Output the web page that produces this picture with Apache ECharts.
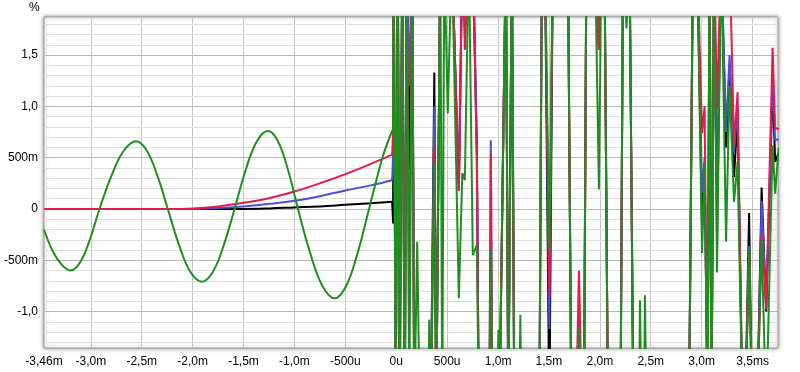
<!DOCTYPE html>
<html><head><meta charset="utf-8">
<script src="https://cdn.jsdelivr.net/npm/echarts@6/dist/echarts.min.js"></script>
<style>html,body{margin:0;padding:0;background:#fff}#c{width:800px;height:372px}</style>
</head><body><div id="c"></div>
<script>
// ---- tick labels ----
const xTickValues = [-3.46,-3.0,-2.5,-2.0,-1.5,-1.0,-0.5,0,0.5,1.0,1.5,2.0,2.5,3.0,3.5];
const xTickLabels = ['-3,46m','-3,0m','-2,5m','-2,0m','-1,5m','-1,0m','-500u','0u','500u','1,0m','1,5m','2,0m','2,5m','3,0m','3,5ms'];
const yTickValues = [-1.0,-0.5,0,0.5,1.0,1.5];
const yTickLabels = ['-1,0','-500m','0','500m','1,0','1,5'];
const xGridValues = [-3.0,-2.5,-2.0,-1.5,-1.0,-0.5,0,0.5,1.0,1.5,2.0,2.5,3.0,3.5];

// ---- before t=0 (ms) ----
const tPreRBK  = [-3.46,-2.25,-2.0,-1.75,-1.5,-1.25,-1.0,-0.75,-0.5,-0.25,-0.04];
const redPre   = [0,0,0.005,0.025,0.06,0.105,0.17,0.25,0.34,0.44,0.53];
const bluePre  = [0,0,0,0.01,0.025,0.05,0.08,0.125,0.18,0.23,0.28];
const blackPre = [0,0,0,0,0,0.005,0.015,0.025,0.04,0.055,0.07];

const tPreGreen = [-3.46,-3.37,-3.28,-3.20,-3.105,-3.01,-2.915,-2.795,-2.675,-2.555,-2.451,-2.348,-2.244,-2.132,-2.021,-1.909,-1.802,-1.695,-1.588,-1.479,-1.369,-1.26,-1.162,-1.063,-0.965,-0.845,-0.725,-0.605,-0.492,-0.38,-0.267,-0.19,-0.12,-0.04];
const greenPre  = [-0.20,-0.42,-0.55,-0.60,-0.52,-0.30,0,0.33,0.57,0.66,0.57,0.33,0,-0.355,-0.615,-0.71,-0.615,-0.355,0,0.38,0.66,0.76,0.66,0.38,0,-0.43,-0.75,-0.87,-0.75,-0.43,0,0.30,0.55,0.76];

// ---- after t=0 (ms) ----
const tPost = [-0.04,-0.031,-0.025,-0.005,0.015,0.034,0.059,0.084,0.103,0.128,0.157,0.177,0.206,0.231,0.315,0.324,0.339,0.374,0.393,0.433,0.452,0.472,0.506,0.546,0.615,0.649,0.674,0.713,0.752,0.792,0.811,0.914,0.929,0.944,0.993,1.003,1.013,1.077,1.101,1.136,1.160,1.209,1.219,1.229,1.406,1.431,1.460,1.504,1.539,1.686,1.721,1.765,1.795,1.824,1.844,1.868,1.952,1.991,2.016,2.045,2.080,2.203,2.228,2.262,2.291,2.330,2.384,2.394,2.409,2.434,2.443,2.458,2.876,2.915,2.955,3.004,3.029,3.058,3.078,3.097,3.122,3.151,3.191,3.210,3.240,3.274,3.318,3.353,3.402,3.427,3.466,3.496,3.545,3.589,3.634,3.697,3.722,3.757];
const blackPost = [0.07,-0.14,2.5,-2,2.5,-2,2.5,-2,2.5,0.38,2.5,-2,-2,-2,-2,-2,-2,1.33,-2,2.5,2.5,2.5,2.5,2.5,0.18,2.5,2.5,2.5,2.5,0.6,-2,-2,-0.4,-2,-2,-2,-2,2.5,-2,2.5,-2,-2,-2,-2,-2,2.5,2.5,-2,2.5,2.5,-2,-2,-1.2,-2,-2,2.5,2.5,1.55,2.5,2.5,-2,-2,2.5,2.5,2.5,-2,-2,-2,-2,-2,-2,-2,-2,2.5,2.5,-0.2,0.45,-2,2.5,-2,2.5,-0.27,2.5,2.5,0.6,1.4,0.31,0.9,-2,-2,-0.04,-2,-2,0.21,-1.0,1.2,0.46,0.55];
const bluePost  = [0.28,0.53,2.5,-2,2.5,-2,2.5,-2,2.5,1.2,2.5,-2,-2,-2,-2,-2,-2,1.0,-2,2.5,2.5,2.5,2.5,2.5,0.18,2.5,2.5,2.5,2.5,0.52,-2,-2,0.67,-2,-2,-2,-2,2.5,-2,2.5,-2,-2,-2,-2,-2,2.5,2.5,-1.17,2.5,2.5,-2,-2,-1.0,-2,-2,2.5,2.5,1.55,2.5,2.5,-2,-2,2.5,2.5,2.5,-2,-2,-2,-2,-2,-2,-2,-2,2.5,2.5,0.16,0.5,-2,2.5,-2,2.5,0.25,2.5,2.5,0.75,1.5,0.55,1.0,-2,-2,-0.36,-2,-2,0.08,-0.98,1.3,0.67,0.68];
const redPost   = [0.53,0.75,2.5,-2,2.5,-2,2.5,-2,2.5,-1.0,2.5,-2,-2,-2,-2,-2,-2,0.6,-2,2.5,2.5,2.5,2.5,2.5,0.18,2.5,1.55,2.5,2.5,0.45,-2,-2,0.54,-2,-2,-2,-2,2.5,-2,2.5,-2,-2,-2,-2,-2,2.5,2.5,-0.85,2.5,2.5,-2,-2,-0.6,-2,-2,2.5,2.5,1.55,2.5,2.5,-2,-2,2.5,2.5,2.5,-2,-2,-2,-2,-2,-2,-2,-2,2.5,2.5,0.74,1.0,-2,2.5,-2,2.5,0.97,2.5,2.5,2.5,2.5,0.62,1.14,-2,-2,-0.42,-2,-2,-0.25,-0.96,1.57,0.79,0.78];
const greenPost = [0.76,0.78,2.5,-2,2.5,-2,2.5,-2,2.5,-2,2.5,-2,-0.32,-2,-2,-1.08,-2,0.45,-2,2.5,-2,2.5,0.93,2.5,-0.87,0.35,0.28,2.5,-0.45,-0.35,-2,-2,-0.4,-2,-2,-1.18,-2,2.5,-2,2.5,-2,-2,-1.03,-2,-2,2.5,2.5,-0.42,2.5,2.5,-2,-2,-1.15,-2,-2,2.5,2.5,0.19,2.5,2.5,-2,-2,2.5,1.76,2.5,-2,-2,-0.89,-2,-2,-0.84,-2,-2,2.5,2.5,-0.43,0.45,-2,2.5,-2,2.5,-0.62,2.5,2.5,-0.32,1.2,0.07,0.46,-2,-2,-0.4,-2,-2,-0.3,-2,0.62,0.15,0.6];

const colors = {black:'#000000', blue:'#4f4fd6', red:'#e8194a', green:'#1f8e1f'};
const zip = (xs, ys) => xs.map((x, i) => [x, ys[i]]);

function lineSeries(name, data, color, smooth, z) {
  return {name, type:'line', data, smooth, showSymbol:false, symbol:'none', z,
    lineStyle:{color, width:2, type:'solid'}, itemStyle:{color}, animation:false, clip:true};
}

const gridLines = [];
xGridValues.forEach(v => gridLines.push({xAxis:v, lineStyle:{color:'#c4c4c4', width:1, type:'solid'}}));
for (let k = -13; k <= 18; k++) {
  const major = (k % 5 === 0);
  gridLines.push({yAxis:k/10, lineStyle:{color: major ? '#b8b8b8' : '#dedede', width:1, type:'solid'}});
}

const chart = echarts.init(document.getElementById('c'), null, {renderer:'canvas'});
const fmt = (vals, labels) => v => {
  for (let i = 0; i < vals.length; i++) if (Math.abs(vals[i]-v) < 1e-6) return labels[i];
  return '';
};
chart.setOption({
  animation:false,
  backgroundColor:'#ffffff',
  grid:{left:44, right:22, top:17, bottom:24, show:true, backgroundColor:'#ffffff',
    borderColor:'#9c9c9c', borderWidth:1, shadowColor:'rgba(0,0,0,0.45)', shadowBlur:4},
  graphic:[{type:'text', left:29, top:2, style:{text:'%', font:'12px "Liberation Sans", Arial, sans-serif', fill:'#000'}}],
  xAxis:{type:'value', min:-3.46, max:3.75,
    axisLine:{show:false}, axisTick:{show:false}, splitLine:{show:false},
    axisLabel:{customValues:xTickValues, formatter:fmt(xTickValues, xTickLabels), color:'#000',
      fontSize:12, fontFamily:'"Liberation Sans", Arial, sans-serif', margin:8, showMinLabel:true, showMaxLabel:true}},
  yAxis:{type:'value', min:-1.355, max:1.871,
    axisLine:{show:false}, axisTick:{show:false}, splitLine:{show:false},
    axisLabel:{customValues:yTickValues, formatter:fmt(yTickValues, yTickLabels), color:'#000',
      fontSize:12, fontFamily:'"Liberation Sans", Arial, sans-serif', margin:6}},
  series:[
    {type:'line', data:[], z:1, silent:true, animation:false,
      markLine:{z:1, silent:true, symbol:['none','none'], label:{show:false}, animation:false, data:gridLines}},
    lineSeries('black', zip(tPreRBK, blackPre), colors.black, 0.4, 10),
    lineSeries('blue', zip(tPreRBK, bluePre), colors.blue, 0.4, 11),
    lineSeries('red', zip(tPreRBK, redPre), colors.red, 0.4, 12),
    lineSeries('green', zip(tPreGreen, greenPre), colors.green, 0.4, 13),
    lineSeries('blackPost', zip(tPost, blackPost), colors.black, false, 10),
    lineSeries('bluePost', zip(tPost, bluePost), colors.blue, false, 11),
    lineSeries('redPost', zip(tPost, redPost), colors.red, false, 12),
    lineSeries('greenPost', zip(tPost, greenPost), colors.green, false, 13)
  ]
});
</script></body></html>
